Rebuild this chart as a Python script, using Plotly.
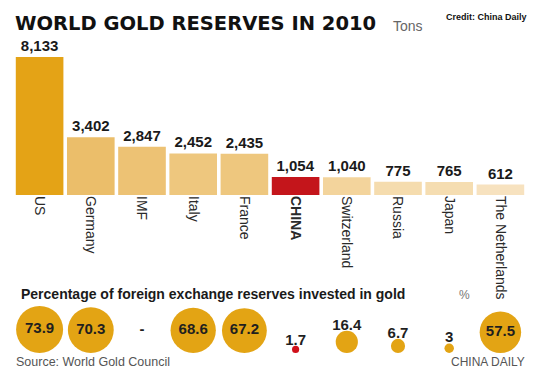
import math
import plotly.graph_objects as go

# ---- data ----
countries = ["US", "Germany", "IMF", "Italy", "France", "CHINA",
             "Switzerland", "Russia", "Japan", "The Netherlands"]
reserves_tons = [8133, 3402, 2847, 2452, 2435, 1054, 1040, 775, 765, 612]
reserve_labels = ["8,133", "3,402", "2,847", "2,452", "2,435", "1,054",
                  "1,040", "775", "765", "612"]
pct_in_gold = [73.9, 70.3, None, 68.6, 67.2, 1.7, 16.4, 6.7, 3, 57.5]
pct_labels = ["73.9", "70.3", "-", "68.6", "67.2", "1.7", "16.4", "6.7", "3", "57.5"]

bar_colors = ["#E4A316", "#EBBE6A", "#EDC274", "#EEC77E", "#EEC77E",
              "#C4151B", "#F3D49C", "#F5DCAE", "#F5DDB1", "#F7E2BF"]
dot_gold = "#E3A414"
dot_red = "#D0101A"

W, H = 539, 385


def px(x):
    return x / W


def py(y):
    return 1 - y / H


fig = go.Figure()

# ---- bar chart ----
ticktext = ["<b>CHINA</b>" if c == "CHINA" else c for c in countries]
fig.add_trace(go.Bar(
    x=countries, y=reserves_tons,
    text=reserve_labels, textposition="outside", cliponaxis=False,
    textfont=dict(family="Liberation Sans", size=15, color="#1a1a1a", weight=700),
    marker=dict(color=bar_colors, line=dict(width=0)),
    width=0.93, hoverinfo="skip",
    xaxis="x", yaxis="y",
))

# ---- bubble row ----
base_px = 353
k = 5.47
bx, by, bs, bcol = [], [], [], []
tx, ty, tt = [], [], []
for c, v, lab in zip(countries, pct_in_gold, pct_labels):
    if v is None:
        tx.append(c)
        ty.append(330)
        tt.append(lab)
        continue
    d = k * math.sqrt(v)
    yc = base_px - d / 2
    bx.append(c)
    by.append(yc)
    bs.append(d)
    bcol.append(dot_red if c == "CHINA" else dot_gold)
    tx.append(c)
    tt.append(lab)
    ty.append(yc if v >= 50 else base_px - d - 5)

fig.add_trace(go.Scatter(
    x=bx, y=by, mode="markers",
    marker=dict(size=bs, sizemode="diameter", color=bcol, opacity=1,
                line=dict(width=0)),
    cliponaxis=False, hoverinfo="skip",
    xaxis="x2", yaxis="y2",
))
fig.add_trace(go.Scatter(
    x=tx, y=ty, mode="text", text=tt, textposition="middle center",
    textfont=dict(family="Liberation Sans", size=15, color="#1f1f1f", weight=700),
    cliponaxis=False, hoverinfo="skip",
    xaxis="x2", yaxis="y2",
))

xdom = [px(14), px(526)]
fig.update_layout(
    width=W, height=H,
    margin=dict(l=0, r=0, t=0, b=0),
    paper_bgcolor="white", plot_bgcolor="rgba(0,0,0,0)",
    showlegend=False,
    xaxis=dict(domain=xdom, type="category", categoryarray=countries,
               range=[-0.5, 9.5], tickangle=90, tickvals=countries,
               ticktext=ticktext, ticks="", showgrid=False, showline=False,
               zeroline=False, automargin=False, fixedrange=True,
               tickfont=dict(family="Liberation Sans", size=14, color="#2a2a2a")),
    yaxis=dict(domain=[py(195), py(40)], range=[0, 155 / (138 / 8133)],
               visible=False, automargin=False, fixedrange=True),
    xaxis2=dict(domain=xdom, type="category", categoryarray=countries,
                range=[-0.5, 9.5], anchor="y2", visible=False,
                automargin=False, fixedrange=True),
    yaxis2=dict(domain=[0, py(280)], range=[385, 280], anchor="x2",
                visible=False, automargin=False, fixedrange=True),
    bargap=0.07,
)

ann = [
    dict(text="<b>WORLD GOLD RESERVES IN 2010</b>", x=px(13), y=py(23),
         font=dict(family="DejaVu Sans", size=19.5, color="#111111"), xanchor="left"),
    dict(text="Tons", x=px(391), y=py(26),
         font=dict(family="Liberation Sans", size=14, color="#666666"), xanchor="left"),
    dict(text="<b>Credit: China Daily</b>", x=px(444), y=py(17),
         font=dict(family="Liberation Sans", size=9, color="#111111"), xanchor="left"),
    dict(text="<b>Percentage of foreign exchange reserves invested in gold</b>",
         x=px(19), y=py(294),
         font=dict(family="Liberation Sans", size=14, color="#1a1a1a"), xanchor="left"),
    dict(text="%", x=px(457), y=py(295),
         font=dict(family="Liberation Sans", size=12, color="#777777"), xanchor="left"),
    dict(text="Source: World Gold Council", x=px(14), y=py(362),
         font=dict(family="Liberation Sans", size=12.5, color="#555555"), xanchor="left"),
    dict(text="CHINA DAILY", x=px(449), y=py(362),
         font=dict(family="Liberation Sans", size=12, color="#555555"), xanchor="left"),
]
for a in ann:
    a.update(xref="paper", yref="paper", showarrow=False, yanchor="middle")
fig.update_layout(annotations=ann)

fig.write_html("out.html", config={"displayModeBar": False},
               post_script="document.body.style.margin='0';document.body.style.overflow='hidden';")
